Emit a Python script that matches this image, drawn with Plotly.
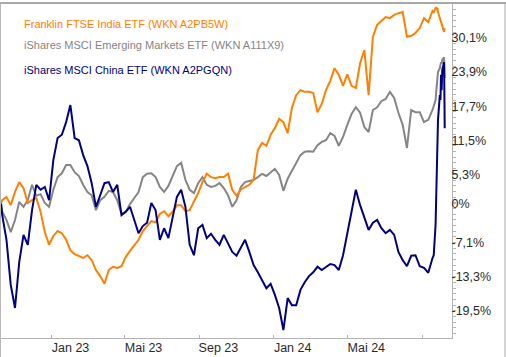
import pandas as pd
import plotly.graph_objects as go

# ---- data (percent performance) ----
start_date = ["2022-10-10"]
weekly_dates = [d.strftime("%Y-%m-%d") for d in pd.date_range("2022-10-12", periods=102, freq="7D")]
tail_dates = ["2024-09-20", "2024-09-23", "2024-09-24", "2024-09-25", "2024-09-26", "2024-09-27",
              "2024-09-30", "2024-10-01", "2024-10-02", "2024-10-03", "2024-10-04", "2024-10-07", "2024-10-08"]
dates = start_date + weekly_dates + tail_dates

india = [0.0,
    0.6, 1.2, -0.3, 2.1, 3.9, 2.8, 0.1, 0.6, 1.0, -1.5,
    -5.2, -7.5, -5.9, -5.0, -5.4, -6.6, -8.5, -9.2, -9.5, -9.9,
    -9.4, -10.3, -12.1, -13.2, -14.6, -12.1, -11.5, -11.7, -11.4, -9.7,
    -8.6, -7.7, -6.6, -5.0, -4.1, -3.2, -3.4, -1.9, -1.4, -2.3,
    -1.5, -0.3, -0.3, -1.4, -1.2, 0.3, 1.9, 3.9, 5.4, 4.8,
    4.6, 4.8, 4.8, 5.4, 2.5, 1.4, 2.5, 3.0, 3.4, 4.3,
    9.7, 11.0, 10.5, 12.5, 13.7, 15.4, 14.8, 12.8, 17.4, 19.7,
    20.6, 20.3, 20.3, 20.1, 16.6, 18.1, 20.6, 22.3, 24.6, 23.4,
    21.4, 23.5, 21.4, 21.0, 25.5, 27.9, 19.7, 30.3, 32.5, 33.2,
    33.9, 33.7, 34.3, 34.6, 34.8, 30.3, 30.5, 31.0, 31.9, 33.7,
    33.0, 35.0,
    34.8, 35.5, 35.7, 35.4, 35.5, 34.8, 33.7, 33.4, 32.6, 32.3, 31.9, 31.2, 31.9]

emerging = [0.0,
    -1.5, -3.0, -5.2, -3.0, 0.3, -0.6, 0.6, 3.4, 1.4, 1.7,
    0.1, -0.6, 2.5, 4.8, 5.5, 7.0, 7.0, 5.7, 5.0, 3.4,
    2.1, 1.5, -1.2, 0.6, 1.2, 2.3, 2.1, 0.6, -1.9, -1.5,
    -0.1, 1.0, 2.1, 4.8, 5.4, 5.5, 4.8, 3.0, 2.1, 3.2,
    5.0, 6.8, 7.4, 4.3, 2.5, 1.9, 3.7, 4.8, 3.4, 3.0,
    3.2, 3.7, 2.8, 1.5, -0.6, 0.6, 3.0, 3.9, 4.1, 4.3,
    4.8, 5.4, 5.0, 5.7, 6.3, 5.2, 2.3, 4.5, 5.9, 7.5,
    8.8, 9.4, 9.5, 9.4, 10.6, 11.2, 11.5, 12.8, 12.3, 10.5,
    12.1, 14.3, 16.3, 17.5, 16.5, 13.9, 13.0, 17.0, 17.5, 18.6,
    19.0, 20.3, 19.2, 16.5, 14.3, 10.1, 17.0, 16.6, 16.6, 14.8,
    15.2, 17.0,
    17.9, 18.8, 20.3, 21.5, 22.5, 23.9, 24.6, 25.0, 25.7, 25.4, 26.1, 26.6, 22.8]

china = [0.0,
    -2.1, -6.6, -14.8, -19.0, -10.6, -5.7, -7.5, -1.2, 3.4, 2.5,
    3.0, 0.6, 7.9, 11.9, 12.5, 14.8, 17.9, 11.9, 11.5, 8.8,
    6.8, 3.7, -0.6, 1.5, 3.7, 3.9, 2.1, 3.4, -2.1, -1.5,
    -0.6, -3.0, -5.4, -4.1, -3.5, 0.1, -1.2, -6.6, -4.5, -6.3,
    -2.6, 1.2, 2.5, -0.6, -7.5, -9.4, -4.5, -3.9, -6.3, -5.5,
    -6.6, -7.5, -5.7, -7.2, -8.8, -9.5, -8.1, -6.6, -8.8, -11.2,
    -12.5, -13.9, -15.4, -14.6, -16.6, -19.0, -23.0, -17.2, -18.5, -18.5,
    -15.7, -14.3, -13.2, -12.5, -11.5, -12.1, -11.5, -11.0, -11.2, -12.1,
    -9.4, -5.2, -1.7, 2.5, -0.3, -2.6, -4.8, -3.5, -3.0, -4.5,
    -5.4, -4.8, -5.7, -8.8, -10.3, -11.4, -9.5, -9.4, -11.4, -11.7,
    -12.6, -9.9,
    -9.4, -3.9, 0.6, 7.0, 9.7, 15.2, 19.7, 18.8, 23.4, 20.6, 24.3, 25.7, 13.7]

series_names = ["Franklin FTSE India ETF (WKN A2PB5W)",
                "iShares MSCI Emerging Markets ETF (WKN A111X9)",
                "iShares MSCI China ETF (WKN A2PGQN)"]
series_colors = ["#FF8000", "#858585", "#000080"]

y_tickvals = [30.1, 23.9, 17.7, 11.5, 5.3, 0, -7.1, -13.3, -19.5]
y_ticktext = ["30,1%", "23,9%", "17,7%", "11,5%", "5,3%", "0%", "-7,1%", "-13,3%", "-19,5%"]
x_tickvals = ["2023-01-01", "2023-05-01", "2023-09-01", "2024-01-01", "2024-05-01", "2024-09-01"]
x_ticktext = ["Jan 23", "Mai 23", "Sep 23", "Jan 24", "Mai 24", ""]

fig = go.Figure()
for idx in [1, 0, 2]:
    vals = [india, emerging, china][idx]
    fig.add_trace(go.Scatter(x=dates, y=vals, mode="lines", name=series_names[idx],
                             line=dict(color=series_colors[idx], width=2)))

axis_col = "#b4b4b4"
label_font = dict(family="Arial", size=12.5, color="#2a2a2a")
fig.update_layout(
    width=506, height=357,
    margin=dict(l=1, r=54, t=4, b=19, autoexpand=False),
    paper_bgcolor="white", plot_bgcolor="white",
    showlegend=False,
    font=dict(family="Arial", size=12.5, color="#2a2a2a"),
    xaxis=dict(range=["2022-10-10", "2024-10-20"], tickvals=x_tickvals, ticktext=x_ticktext,
               showgrid=False, zeroline=False, showline=True, linecolor=axis_col, linewidth=1,
               ticks="inside", ticklen=3, tickcolor=axis_col, ticklabelshift=19,
               ticklabelstandoff=-2, automargin=False, tickfont=label_font),
    yaxis=dict(range=[-24.45, 36.27], side="right", tickvals=y_tickvals, ticktext=y_ticktext,
               showgrid=False, zeroline=False, showline=True, linecolor=axis_col, linewidth=1,
               ticks="outside", ticklen=3, tickcolor=axis_col, automargin=False,
               ticklabelstandoff=-7, tickfont=label_font,
               minor=dict(ticks="outside", ticklen=3, tickcolor=axis_col, tick0=-19.5, dtick=6.2 / 6)),
)

# legend texts
for i, (name, col) in enumerate(zip(series_names, series_colors)):
    fig.add_annotation(xref="paper", yref="paper", x=(22 - 1) / 451, y=1 - ([24, 45, 70][i] - 4) / 334,
                       xanchor="left", yanchor="middle", showarrow=False, text=name,
                       font=dict(family="Arial", size=11, color=col))

# outer frame
frame_col = "#a8a8a8"
fig.add_shape(type="line", xref="paper", yref="paper", x0=-0.002, x1=1.12, y0=1.003, y1=1.003,
              line=dict(color=frame_col, width=2))
fig.add_shape(type="line", xref="paper", yref="paper", x0=-0.0015, x1=-0.0015, y0=-0.06, y1=1.003,
              line=dict(color=frame_col, width=1))
fig.add_shape(type="line", xref="paper", yref="paper", x0=1.1175, x1=1.1175, y0=-0.06, y1=1.003,
              line=dict(color=frame_col, width=1))

fig.write_html("out.html", config={"displayModeBar": False},
               post_script="document.body.style.margin='0';document.body.style.overflow='hidden';")
